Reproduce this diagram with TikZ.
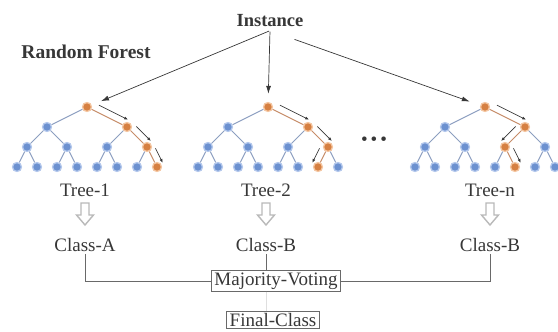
\documentclass[tikz,border=0pt]{standalone}
\usepackage{fontspec}
\setmainfont{Liberation Serif}
\usetikzlibrary{calc,arrows.meta}

\definecolor{leafblue}{RGB}{108,145,208}
\definecolor{leafrim}{RGB}{180,200,236}
\definecolor{pathorange}{RGB}{214,128,66}
\definecolor{pathrim}{RGB}{244,198,162}
\definecolor{edgeblue}{RGB}{140,158,192}
\definecolor{edgeorange}{RGB}{198,140,104}
\definecolor{inkgray}{RGB}{55,55,55}
\definecolor{wiregray}{RGB}{105,105,105}

\tikzset{
  cold/.style={circle,fill=leafblue,draw=leafrim,line width=1.3pt,minimum size=9pt,inner sep=0pt},
  hot/.style={cold,fill=pathorange,draw=pathrim},
  coldedge/.style={draw=edgeblue,line width=.9pt},
  hotedge/.style={draw=edgeorange,line width=.9pt},
  feed/.style={draw=inkgray,line width=.7pt,-{Latex[length=8pt,width=5pt]}},
  flow/.style={draw=inkgray,line width=.7pt,-{Latex[length=4pt,width=3pt]}},
  heading/.style={font=\fontsize{18.5}{22}\selectfont\bfseries,text=inkgray},
  caption/.style={font=\fontsize{19}{22}\selectfont,text=inkgray,inner sep=2pt},
  votebox/.style={caption,draw=wiregray,line width=.7pt,inner xsep=3pt,inner ysep=2pt},
  wire/.style={draw=wiregray,line width=.7pt},
  faint/.style={draw=gray!25,line width=.7pt},
  pics/hollow/.style={code={
    \draw[draw=gray!55,fill=white,line width=1.4pt,line join=miter]
      (-4,-11) -- (4,-11) -- (4,1) -- (8.5,1) -- (0,11) -- (-8.5,1) -- (-4,1) -- cycle;}}
}

% arrow running beside an edge, on the side given by the angle
\newcommand{\flow}[3]{%
  \pgfmathtruncatemacro\backang{#3+180}%
  \draw[flow] ($(#1)!.22!(#2)!7pt!#3:(#2)$) -- ($(#1)!.95!(#2)!7pt!\backang:(#1)$);}

\begin{document}
\begin{tikzpicture}[x=1pt,y=-1pt]
  \useasboundingbox (0,0) rectangle (558,332);

  % trees: node k has children 2k and 2k+1
  \foreach \t/\x/\a/\b/\c in {1/87/3/7/15, 2/268/3/7/14, n/485/3/6/13}{
    \foreach \l/\w in {0/1,1/2,2/4,3/8}{
      \foreach \i in {1,...,\w}{
        \pgfmathtruncatemacro\k{\w+\i-1}
        \pgfmathtruncatemacro\hot{(\k==1)||(\k==\a)||(\k==\b)||(\k==\c)}
        \ifnum\hot=1 \def\look{hot}\else\def\look{cold}\fi
        \node[\look] (\t-\k) at ({\x+(\i-.5)*160/\w-80},{107+20*\l}) {};
      }
    }
    \foreach \k in {2,...,15}{
      \pgfmathtruncatemacro\p{int(\k/2)}
      \pgfmathtruncatemacro\hot{(\k==\a)||(\k==\b)||(\k==\c)}
      \ifnum\hot=1 \def\look{hotedge}\else\def\look{coldedge}\fi
      \draw[\look] (\t-\p) -- (\t-\k);
    }
  }

  \flow{1-1}{1-3}{90} \flow{1-3}{1-7}{90} \flow{1-7}{1-15}{90}
  \flow{2-1}{2-3}{90} \flow{2-3}{2-7}{90} \flow{2-7}{2-14}{-90}
  \flow{n-1}{n-3}{90} \flow{n-3}{n-6}{-90} \flow{n-6}{n-13}{90}

  \node[heading] (inst) at (270,21) {Instance};
  \node[heading,font=\fontsize{19.5}{22}\selectfont\bfseries] (forest) at (86,52) {Random Forest};
  \node[caption] (more) at (374,141) {\textbullet\kern3pt\textbullet\kern3pt\textbullet};

  \draw[feed,shorten <=1pt,shorten >=10pt] (inst.south) -- (1-1);
  \draw[feed,shorten <=1pt,shorten >=8pt] (inst.south) -- (2-1);
  \draw[feed,shorten <=26pt,shorten >=11pt] (inst.south) -- (n-1);

  \foreach \t/\x/\cls in {1/85/A, 2/266/B, n/490/B}{
    \node[caption] (tree-\t) at (\x,190) {Tree-\t};
    \pic (down-\t) at (\x,214) {hollow};
    \node[caption] (class-\t) at (\x,245) {Class-\cls};
  }

  \node[votebox] (vote) at (276,281) {Majority-Voting};
  \node[votebox] (final) at (273,320) {Final-Class};

  \draw[wire] (class-1) |- (vote);
  \draw[wire] (class-2) -- (class-2 |- vote.north);
  \draw[wire] (class-n) |- (vote);
  \draw[faint] (class-2 |- vote.south) -- (class-2 |- final.north);
\end{tikzpicture}
\end{document}
